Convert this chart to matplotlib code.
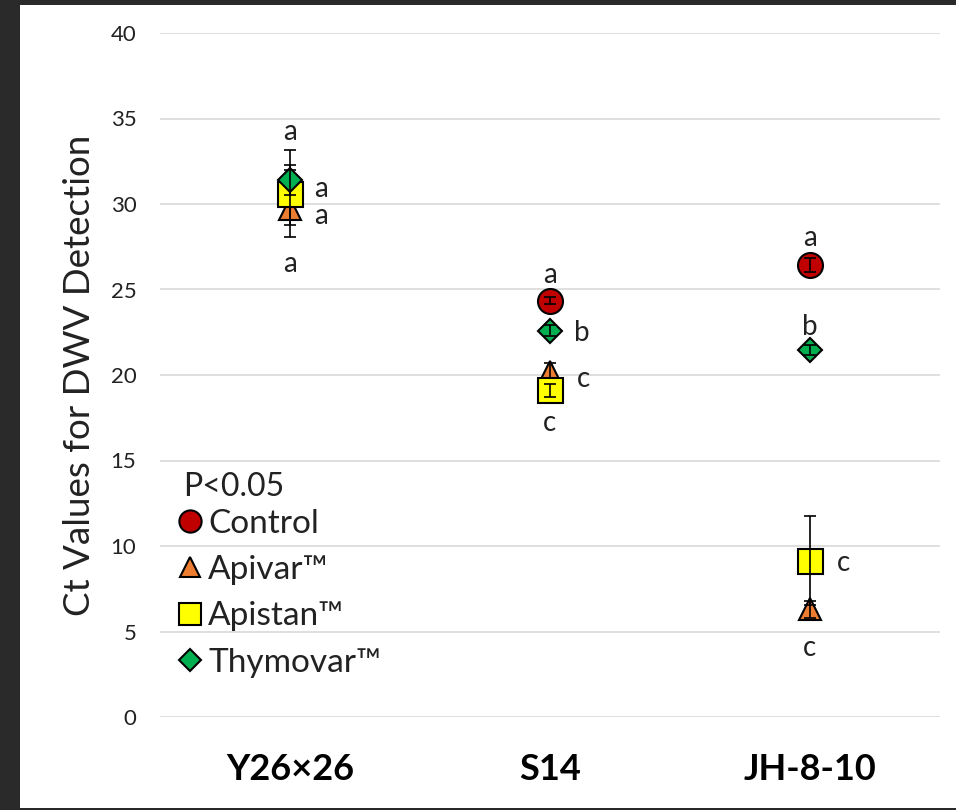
import matplotlib
matplotlib.use("Agg")
import matplotlib.pyplot as plt
from matplotlib.lines import Line2D
from matplotlib.patches import Rectangle

plt.rcParams['font.family'] = ['Lato', 'DejaVu Sans']

# ---------------- data ----------------
categories = ["Y26\u00d726", "S14", "JH-8-10"]
series = ["Control", "Apivar\u2122", "Apistan\u2122", "Thymovar\u2122"]
control = [30.6, 24.35, 26.45]
control_err = [1.4, 0.2, 0.4]
apivar = [29.7, 20.2, 6.3]
apivar_err = [0.9, 0.5, 0.5]
apistan = [30.6, 19.1, 9.15]
apistan_err = [2.55, 0.4, 2.6]
thymovar = [31.4, 22.6, 21.45]
thymovar_err = [0.9, 0.3, 0.3]
letters_control = ["a", "a", "a"]
letters_apivar = ["a", "c", "c"]
letters_apistan = ["a", "c", "c"]
letters_thymovar = ["a", "b", "b"]
yticks = [0, 5, 10, 15, 20, 25, 30, 35, 40]
legend_title = "P<0.05"
ylabel = "Ct Values for DWV Detection"

# ---------------- style ----------------
colors = ["#C00000", "#ED7D31", "#FFFF00", "#00B050"]
markers = ["o", "^", "s", "D"]
msizes = [18, 16, 18, 12.5]
leg_msizes = [16, 14, 16, 11]

# letter offsets in pixels (dx, dy) for each series per category
px = 72 / 100.0
offsets = {
    0: [(0, 64), (0, 28), (0, 29)],         # control
    1: [(31, -4), (33, -5), (0, -36)],      # apivar
    2: [(0, -68), (0, -30), (33, 0)],       # apistan
    3: [(31, -6), (32, 0), (0, 26)],        # thymovar
}

fig = plt.figure(figsize=(9.56, 8.10), dpi=100)
fig.patch.set_facecolor("#2a2a2a")
fig.add_artist(Rectangle((20 / 956, 2 / 810), 1 - 20 / 956, 1 - 7 / 810,
                         transform=fig.transFigure, facecolor="white",
                         edgecolor="none", zorder=0))

ax = fig.add_axes([160 / 956, 93 / 810, 780 / 956, 684 / 810])
ax.set_facecolor("none")
ax.set_xlim(-0.5, 2.5)
ax.set_ylim(0, 40)
ax.set_yticks(yticks)
ax.yaxis.grid(True, color="#d9d9d9", linewidth=1.2)
ax.set_axisbelow(True)
for s in ax.spines.values():
    s.set_visible(False)
ax.tick_params(axis="y", length=0, pad=17, labelsize=16, labelcolor="#222222")
ax.tick_params(axis="x", length=0, pad=26)
ax.set_xticks(range(len(categories)))
ax.set_xticklabels(categories, fontsize=26, fontweight="bold")

vals = [control, apivar, apistan, thymovar]
errs = [control_err, apivar_err, apistan_err, thymovar_err]
lets = [letters_control, letters_apivar, letters_apistan, letters_thymovar]
xs = list(range(len(categories)))

for i in range(4):
    ax.errorbar(xs, vals[i], yerr=errs[i], fmt="none", ecolor="black",
                elinewidth=1.2, capsize=4, capthick=1.2, zorder=3 + 2 * i)
    ax.plot(xs, vals[i], linestyle="none", marker=markers[i],
            markersize=msizes[i], markerfacecolor=colors[i],
            markeredgecolor="black", markeredgewidth=1.5, zorder=3 + 2 * i - 0.5)
    for j in range(3):
        dx, dy = offsets[i][j]
        ax.annotate(lets[i][j], (xs[j], vals[i][j]), xytext=(dx * px, dy * px),
                    textcoords="offset points", ha="center", va="center_baseline",
                    fontsize=20, color="#222222", zorder=20)

handles = [Line2D([], [], linestyle="none", marker=markers[i], markersize=leg_msizes[i],
                  markerfacecolor=colors[i], markeredgecolor="black",
                  markeredgewidth=1.5) for i in range(4)]
leg = ax.legend(handles, series, loc="lower left",
                bbox_to_anchor=(0.0, 0.038), frameon=False, fontsize=24,
                handletextpad=0.05, labelspacing=0.49,
                handlelength=1.0, borderaxespad=0.0)
for t in leg.get_texts():
    t.set_color("#222222")

fig.text(183 / 956, 1 - 487 / 810, legend_title, ha="left", va="center",
         fontsize=23, color="#222222")

fig.text(80 / 956, 1 - 375 / 810, ylabel, rotation=90, ha="center", va="center",
         fontsize=26.5, color="#222222")

fig.savefig("out.png", dpi=100, facecolor=fig.get_facecolor())
